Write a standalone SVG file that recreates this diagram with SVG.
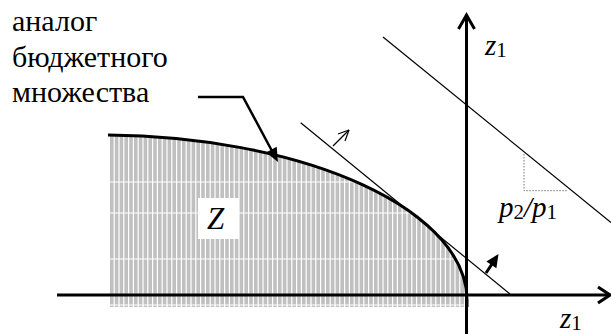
<svg xmlns="http://www.w3.org/2000/svg" width="611" height="334" viewBox="0 0 611 334">
<g id="region-Z">
<line x1="110" y1="221" x2="470" y2="221" stroke="#c0c0c0" stroke-width="172" stroke-dasharray="3.6,1.2"/>
<g stroke="#fff" stroke-width="1.2">
<line x1="110" y1="182" x2="470" y2="182"/>
<line x1="110" y1="213" x2="470" y2="213"/>
<line x1="110" y1="259" x2="470" y2="259"/>
<line x1="110" y1="305" x2="470" y2="305"/>
</g>
<path d="M100,130 L100,135 L108,135 A367,165 0 0 1 467,300 L467,310 L475,310 L475,130 Z" fill="#fff"/>
<rect x="100" y="307" width="380" height="10" fill="#fff"/>
<path d="M108,135 A367,165 0 0 1 467,300 L467,307" stroke="#000" stroke-width="3" fill="none"/>
<rect x="198" y="198" width="41" height="41" fill="#fff"/>
</g>

<g id="axes" stroke="#000" stroke-width="3" fill="none">
<line x1="57" y1="295" x2="609" y2="295"/>
<path d="M598,287 L610,295 L598,303"/>
<line x1="466.5" y1="16" x2="466.5" y2="334"/>
<path d="M458.5,29 L466.5,15 L474.5,29"/>
</g>

<g id="connectors">
<line x1="300.7" y1="122.7" x2="510" y2="294" stroke="#000" stroke-width="1.2"/>
<line x1="383" y1="37" x2="611" y2="222.5" stroke="#000" stroke-width="1.2"/>
<path d="M524,154 L524,190.7 L568,190.7" stroke="#777" stroke-width="1" stroke-dasharray="1.5,1.5" fill="none"/>
<g stroke="#000" stroke-width="1.2">
<line x1="333" y1="146" x2="349" y2="130"/>
<line x1="349" y1="130" x2="338" y2="134"/>
<line x1="349" y1="130" x2="345" y2="141"/>
</g>
<line x1="486" y1="273" x2="492" y2="264" stroke="#000" stroke-width="3"/>
<polygon points="498.5,254 496.4,268.2 486.4,261.6" fill="#000"/>
<polyline points="198,97 243,97 272,151" stroke="#000" stroke-width="2.5" fill="none"/>
<polygon points="278,162 266.1,152.5 276.7,146.8" fill="#000"/>
</g>

<text x="207" y="229" font-size="31" font-style="italic" font-family="'Liberation Serif'">Z</text>
<text x="12" y="31" font-size="30" font-family="'Liberation Serif'">аналог</text>
<text x="12" y="67" font-size="30" font-family="'Liberation Serif'">бюджетного</text>
<text x="12" y="102" font-size="30" font-family="'Liberation Serif'">множества</text>
<text x="485" y="55" font-size="29" font-family="'Liberation Serif'"><tspan font-style="italic">z</tspan><tspan font-size="21" dy="2">1</tspan></text>
<text x="560" y="328" font-size="29" font-family="'Liberation Serif'"><tspan font-style="italic">z</tspan><tspan font-size="21" dy="2">1</tspan></text>
<text x="499" y="217" font-size="29" font-family="'Liberation Serif'"><tspan font-style="italic">p</tspan><tspan font-size="21" dy="2">2</tspan><tspan font-style="italic" dy="-2">/p</tspan><tspan font-size="21" dy="2">1</tspan></text>
</svg>
